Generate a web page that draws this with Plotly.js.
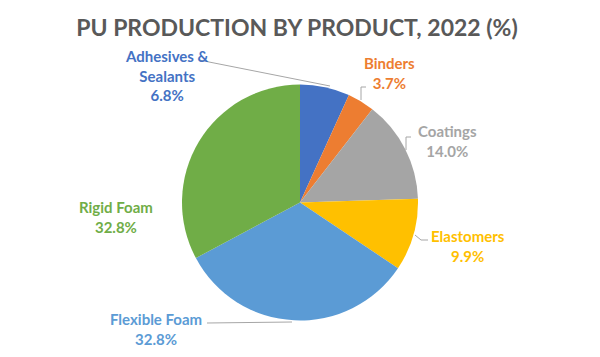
<!DOCTYPE html>
<html>
<head>
<meta charset="utf-8">
<script src="https://cdn.plot.ly/plotly-3.0.1.min.js"></script>
<style>html,body{margin:0;padding:0;background:#fff;}#chart{width:600px;height:357px;}</style>
</head>
<body>
<div id="chart"></div>
<script>
// Data
const categories = ["Adhesives &<br>Sealants", "Binders", "Coatings", "Elastomers", "Flexible Foam", "Rigid Foam"];
const shares = [6.8, 3.7, 14.0, 9.9, 32.8, 32.8];
const sliceColors = ["#4472C4", "#ED7D31", "#A5A5A5", "#FFC000", "#5B9BD5", "#70AD47"];

// Layout helpers (pixel -> paper)
const W = 600, H = 357;
const px = x => x / W;
const py = y => 1 - y / H;

// label positions (pixel centres) — layout only
const labelPos = [[167, 75], [389, 73], [447, 141.5], [468, 245.5], [156, 329], [116, 217]];

const fontFam = "Lato, 'Open Sans', 'DejaVu Sans', sans-serif";

const annotations = categories.map((c, i) => ({
  text: "<b>" + c + "<br>" + shares[i].toFixed(1) + "%</b>",
  x: px(labelPos[i][0]), y: py(labelPos[i][1]),
  xref: "paper", yref: "paper", xanchor: "center", yanchor: "middle",
  showarrow: false,
  font: {family: fontFam, size: 15, color: sliceColors[i]}
}));

function path(points) {
  return points.map((p, i) => (i ? "L" : "M") + px(p[0]) + "," + py(p[1])).join(" ");
}
const leaderLines = [
  [[199, 60], [330, 86]],
  [[366, 87], [361, 87], [361, 100]],
  [[411, 137], [406, 137], [406, 150]],
  [[428, 240], [421, 240], [415, 235]],
  [[207, 323], [292, 322]]
];
const shapes = leaderLines.map(pts => ({
  type: "path", xref: "paper", yref: "paper", path: path(pts),
  line: {color: "#A6A6A6", width: 1}
}));

const trace = {
  type: "pie",
  labels: categories,
  values: shares,
  marker: {colors: sliceColors, line: {width: 0}},
  sort: false,
  direction: "clockwise",
  rotation: 0,
  textinfo: "none",
  hoverinfo: "label+percent",
  domain: {x: [182 / W, 418 / W], y: [1 - 321 / H, 1 - 84 / H]}
};

const layout = {
  width: W, height: H,
  margin: {l: 0, r: 0, t: 0, b: 0},
  paper_bgcolor: "#ffffff",
  showlegend: false,
  title: {
    text: "<b>PU PRODUCTION BY PRODUCT, 2022 (%)</b>",
    x: 0.495, xanchor: "center", y: 1 - 28 / H, yanchor: "middle",
    font: {family: fontFam, size: 23, color: "#595959"}
  },
  annotations: annotations,
  shapes: shapes
};

Plotly.newPlot("chart", [trace], layout, {displayModeBar: false, staticPlot: true});
</script>
</body>
</html>
